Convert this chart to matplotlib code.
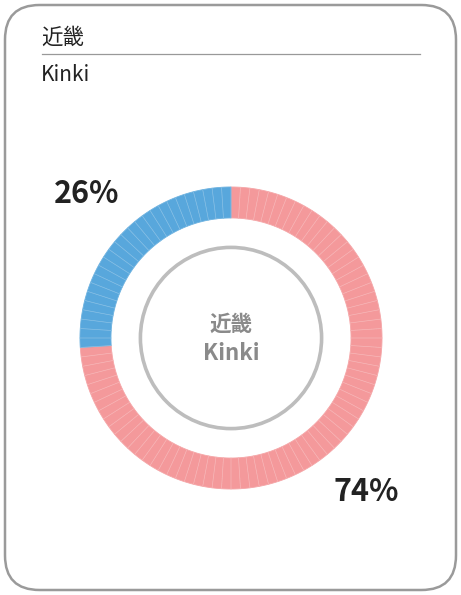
import matplotlib
matplotlib.use("Agg")
import matplotlib.pyplot as plt
from matplotlib.patches import FancyBboxPatch, Circle

plt.rcParams["font.family"] = ["Noto Sans CJK JP", "DejaVu Sans"]

# data
region_jp = "近畿"
region_en = "Kinki"
shares = [74, 26]          # percent, clockwise from 12 o'clock
share_labels = ["74%", "26%"]
share_colors = ["#F4999B", "#58A7DC"]

W, H = 461, 595
fig = plt.figure(figsize=(W / 100, H / 100), dpi=100)


def fx(px):
    return px / W


def fy(py):
    return 1 - py / H


# card outline
card = FancyBboxPatch((fx(5), fy(590)), fx(451), 585 / H,
                      boxstyle="round,pad=0,rounding_size=0.075",
                      transform=fig.transFigure, fill=False,
                      ec="#9a9a9a", lw=1.8, mutation_aspect=W / H)
fig.add_artist(card)

fig.text(fx(41), fy(38), region_jp, fontsize=15.5, color="#222222", va="center")
fig.add_artist(plt.Line2D([fx(42), fx(420)], [fy(54), fy(54)],
                          transform=fig.transFigure, color="#999999", lw=0.9))
fig.text(fx(41), fy(75), region_en, fontsize=15, color="#222222", va="center")

# donut: one wedge per percent point
cx, cy, r = 231, 338, 151
ax = fig.add_axes([fx(cx - r), fy(cy + r), 2 * r / W, 2 * r / H])
ax.set_axis_off()
vals, cols = [], []
for share, col in zip(shares, share_colors):
    vals += [1] * share
    cols += [col] * share
# solid fill (edges in face colour to hide seams), then faint white dividers
wedges, _ = ax.pie(vals, colors=cols, startangle=90, counterclock=False,
                   radius=1, wedgeprops=dict(width=0.205, linewidth=0.6))
for w, c in zip(wedges, cols):
    w.set_edgecolor(c)
ax.pie(vals, colors=["none"] * len(vals), startangle=90, counterclock=False,
       radius=1, wedgeprops=dict(width=0.205, edgecolor=(1, 1, 1, 0.16),
                                 linewidth=0.5))
ax.set_xlim(-1, 1)
ax.set_ylim(-1, 1)
ax.add_patch(Circle((0, 0), 0.6, fill=False, ec="#bdbdbd", lw=2.6))

ax.text(0, 0.09, region_jp, ha="center", va="center", fontsize=15.5,
        fontweight="bold", color="#8a8a8a")
ax.text(0, -0.1, region_en, ha="center", va="center", fontsize=16,
        fontweight="bold", color="#8a8a8a")

# percent labels
fig.text(fx(366), fy(492), share_labels[0], ha="center", va="center",
         fontsize=22, fontweight="bold", color="#222222")
fig.text(fx(87), fy(194), share_labels[1], ha="center", va="center",
         fontsize=22, fontweight="bold", color="#222222")

fig.savefig("out.png", dpi=100)
